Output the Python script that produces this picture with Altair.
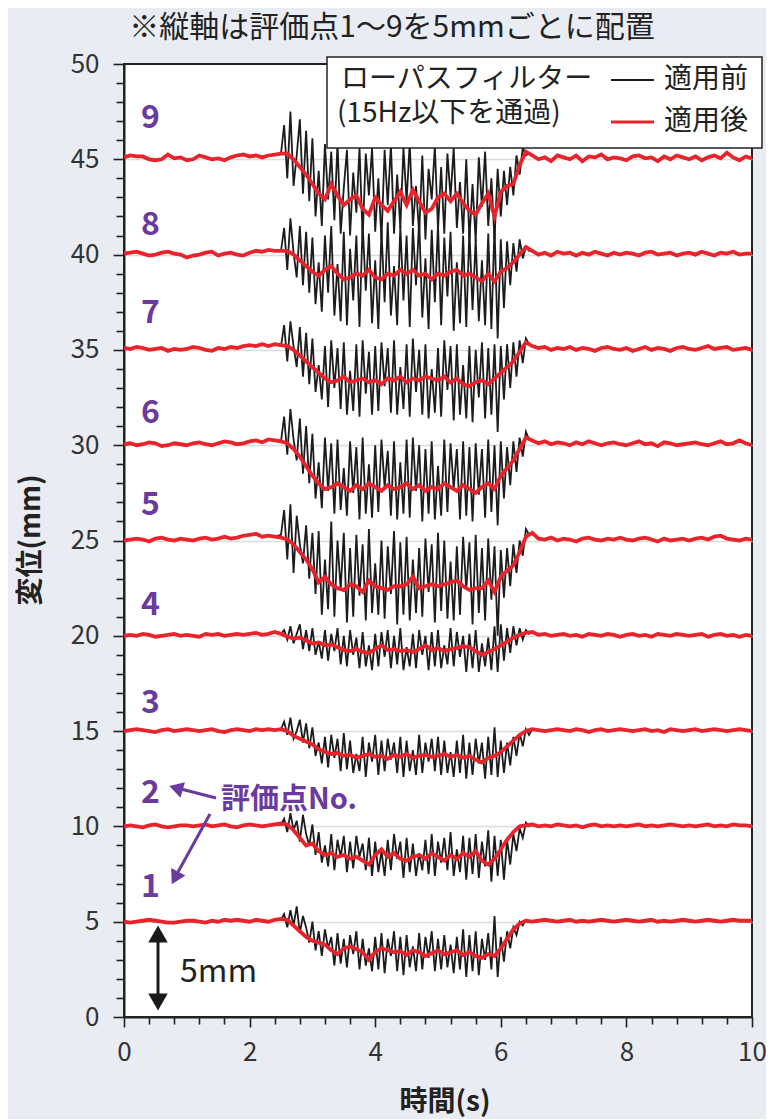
import altair as alt
import pandas as pd

FONT = "Noto Sans CJK JP"
PURPLE = "#6b3a9e"
RED = "#e8232b"
BLACK = "#1c1c1c"
BG = "#e9edf3"

# evaluation points and their vertical placement (5 mm apart)
points = [1, 2, 3, 4, 5, 6, 7, 8, 9]
baselines = [5, 10, 15, 20, 25, 30, 35, 40, 45]

# time grids (s)
red_t = [round(0.1 * i, 1) for i in range(101)]          # 0.0 .. 10.0
black_t = [round(2.5 + 0.05 * i, 2) for i in range(80)]  # 2.50 .. 6.45

# filtered (red) displacement, offset from each baseline (mm), every 0.1 s
red_off = {
    9: [0.10, 0.20, 0.15, 0.15, 0.00, -0.05, 0.00, 0.25, 0.05, 0.10,
        -0.05, 0.00, 0.20, 0.10, 0.00, 0.05, -0.05, 0.10, 0.20, 0.25,
        0.15, 0.20, 0.10, 0.20, 0.25, 0.30, 0.30, 0.00, -0.40, -0.80,
        -1.30, -1.80, -2.10, -1.30, -1.90, -2.40, -2.10, -1.90, -2.60, -2.90,
        -2.00, -2.40, -2.70, -2.20, -1.70, -2.40, -1.60, -2.20, -2.80, -2.60,
        -2.00, -1.80, -2.20, -1.80, -2.30, -2.70, -2.90, -2.30, -1.80, -3.00,
        -1.70, -1.40, -1.30, -0.30, 0.40, 0.20, 0.00, 0.10, -0.10, 0.20,
        0.10, 0.00, 0.20, -0.10, 0.15, 0.10, 0.25, 0.00, 0.10, 0.05,
        -0.05, 0.15, 0.20, 0.05, 0.10, -0.10, 0.15, 0.00, 0.20, 0.10,
        0.00, 0.15, -0.05, 0.10, 0.20, 0.05, 0.35, 0.10, -0.05, 0.15,
        0.05],
    8: [0.05, 0.10, 0.15, 0.05, -0.05, 0.00, 0.10, 0.15, 0.05, 0.00,
        -0.15, -0.05, 0.00, 0.10, 0.15, -0.05, 0.05, 0.10, 0.00, -0.05,
        0.10, 0.20, 0.15, 0.25, 0.20, 0.20, 0.20, 0.00, -0.30, -0.60,
        -0.90, -1.10, -0.80, -0.60, -1.00, -1.30, -1.20, -1.00, -1.10, -0.80,
        -1.20, -1.30, -1.00, -1.10, -0.80, -1.00, -0.80, -1.10, -1.00, -1.30,
        -1.00, -1.10, -0.90, -0.80, -1.10, -1.00, -1.20, -1.40, -1.00, -1.40,
        -0.90, -0.70, -0.40, 0.00, 0.40, 0.20, 0.00, 0.10, -0.05, 0.15,
        0.05, 0.10, -0.05, 0.10, 0.00, 0.15, 0.05, -0.05, 0.10, 0.00,
        0.10, 0.05, -0.05, 0.10, 0.15, 0.00, 0.05, 0.10, -0.05, 0.05,
        0.10, 0.00, 0.15, 0.05, -0.05, 0.10, 0.05, 0.15, 0.00, 0.05,
        0.05],
    7: [0.10, 0.05, 0.15, 0.10, 0.00, 0.05, 0.10, -0.05, 0.05, 0.00,
        0.05, 0.15, 0.10, 0.00, -0.05, 0.10, 0.05, 0.15, 0.10, 0.20,
        0.25, 0.20, 0.30, 0.20, 0.30, 0.25, 0.20, 0.00, -0.30, -0.60,
        -0.90, -1.20, -1.50, -1.70, -1.60, -1.40, -1.70, -1.60, -1.50, -1.70,
        -1.60, -1.80, -1.50, -1.60, -1.40, -1.70, -1.50, -1.60, -1.40, -1.50,
        -1.60, -1.40, -1.70, -1.50, -1.80, -1.90, -1.70, -1.60, -1.80, -1.50,
        -1.20, -0.90, -0.60, -0.10, 0.40, 0.20, 0.10, 0.15, 0.00, 0.10,
        0.05, 0.15, 0.00, 0.10, 0.05, -0.05, 0.10, 0.15, 0.05, 0.00,
        0.10, -0.05, 0.05, 0.15, 0.00, 0.10, 0.05, -0.05, 0.10, 0.15,
        0.05, 0.00, 0.10, 0.20, 0.05, 0.10, 0.15, 0.00, 0.05, 0.10,
        0.00],
    6: [0.05, 0.10, 0.00, 0.05, 0.15, 0.10, -0.05, 0.00, 0.10, 0.05,
        0.00, 0.10, 0.15, 0.05, 0.00, 0.10, 0.20, 0.15, 0.05, 0.10,
        0.20, 0.25, 0.15, 0.30, 0.25, 0.20, 0.10, -0.20, -0.60, -1.10,
        -1.60, -2.00, -2.30, -2.20, -2.00, -2.20, -2.40, -2.10, -2.30, -2.00,
        -2.20, -2.40, -2.10, -2.30, -2.20, -2.00, -2.30, -2.10, -2.40, -2.20,
        -2.30, -2.00, -2.20, -2.40, -2.10, -2.30, -2.50, -2.20, -2.00, -2.30,
        -1.60, -1.20, -0.80, -0.20, 0.40, 0.25, 0.10, 0.20, 0.05, 0.15,
        0.10, 0.00, 0.15, 0.05, 0.20, 0.10, 0.00, 0.10, 0.15, 0.05,
        0.00, 0.10, 0.20, 0.05, 0.10, -0.05, 0.15, 0.10, 0.00, 0.05,
        0.10, 0.15, 0.05, 0.00, 0.10, 0.20, 0.05, 0.10, 0.25, 0.10,
        0.00],
    5: [0.00, 0.05, 0.10, 0.05, -0.05, 0.10, 0.15, 0.05, 0.00, 0.10,
        0.05, 0.00, 0.10, 0.15, 0.05, 0.10, 0.20, 0.10, 0.15, 0.25,
        0.30, 0.35, 0.20, 0.25, 0.20, 0.15, 0.05, -0.20, -0.60, -1.00,
        -1.50, -2.20, -1.90, -2.30, -2.50, -2.60, -2.30, -2.40, -2.70, -2.10,
        -2.40, -2.50, -2.60, -2.40, -2.40, -2.30, -1.90, -2.50, -2.40, -2.30,
        -2.40, -2.30, -2.20, -2.10, -2.40, -2.60, -2.50, -2.50, -2.10, -2.70,
        -1.90, -1.60, -1.30, -0.60, 0.20, 0.40, 0.10, 0.05, 0.15, 0.00,
        0.10, 0.05, -0.05, 0.10, 0.15, 0.05, 0.00, 0.10, 0.05, 0.15,
        0.05, 0.00, 0.10, 0.15, 0.05, -0.05, 0.10, 0.00, 0.05, 0.10,
        0.00, 0.10, 0.15, 0.05, 0.20, 0.25, 0.10, 0.05, 0.00, 0.10,
        0.05],
    4: [0.00, 0.05, 0.00, 0.10, 0.05, -0.05, 0.00, 0.05, 0.10, 0.00,
        0.05, 0.00, -0.05, 0.10, 0.05, 0.10, 0.00, 0.05, 0.10, 0.05,
        0.10, 0.15, 0.05, 0.10, 0.20, 0.10, -0.05, -0.15, -0.10, -0.25,
        -0.40, -0.35, -0.50, -0.45, -0.60, -0.75, -0.80, -0.70, -0.85, -0.90,
        -0.70, -0.50, -0.75, -0.70, -0.80, -0.75, -0.85, -0.70, -0.50, -0.75,
        -0.65, -0.80, -0.70, -0.65, -0.55, -0.60, -0.80, -1.00, -0.85, -0.70,
        -0.50, -0.30, -0.10, 0.05, 0.15, 0.20, 0.05, 0.10, 0.00, 0.05,
        0.10, 0.00, 0.05, -0.05, 0.10, 0.05, 0.00, 0.10, 0.05, -0.05,
        0.05, 0.10, 0.00, 0.05, -0.05, 0.10, 0.05, 0.00, 0.10, 0.05,
        0.00, 0.05, 0.10, -0.05, 0.05, 0.10, 0.00, 0.05, -0.05, 0.05,
        0.00],
    3: [0.00, 0.05, 0.10, 0.05, 0.00, -0.05, 0.05, 0.10, 0.00, 0.05,
        0.10, 0.05, 0.00, 0.05, 0.10, 0.00, -0.05, 0.05, 0.10, 0.05,
        0.00, 0.10, 0.05, 0.10, 0.05, 0.10, 0.00, -0.25, -0.40, -0.55,
        -0.70, -0.95, -1.10, -1.20, -1.15, -1.30, -1.25, -1.40, -1.30, -1.20,
        -1.35, -1.30, -1.45, -1.25, -1.35, -1.20, -1.40, -1.30, -1.25, -1.35,
        -1.30, -1.20, -1.35, -1.25, -1.40, -1.30, -1.50, -1.65, -1.40, -1.30,
        -1.10, -0.80, -0.50, -0.20, 0.00, 0.10, 0.05, 0.00, 0.05, 0.10,
        0.05, 0.00, 0.10, 0.05, -0.05, 0.05, 0.10, 0.00, 0.05, 0.10,
        0.05, 0.00, 0.05, 0.10, 0.00, 0.05, -0.05, 0.10, 0.05, 0.00,
        0.05, 0.10, 0.00, 0.05, 0.10, 0.05, 0.00, 0.05, 0.10, 0.05,
        0.00],
    2: [0.00, 0.05, 0.00, -0.05, 0.05, 0.10, 0.00, -0.05, 0.00, 0.05,
        0.05, 0.00, 0.05, 0.10, 0.00, 0.05, 0.10, 0.00, -0.05, 0.05,
        0.10, 0.05, 0.00, 0.05, 0.10, 0.15, 0.10, -0.20, -0.60, -1.00,
        -0.90, -1.30, -1.50, -1.40, -1.60, -1.50, -1.70, -1.60, -1.80, -2.00,
        -1.50, -1.20, -1.60, -1.40, -1.70, -1.80, -1.60, -1.50, -1.70, -1.40,
        -1.60, -1.80, -1.50, -1.70, -1.40, -1.60, -1.30, -1.80, -2.00, -1.70,
        -1.20, -0.70, -0.30, 0.00, 0.05, 0.10, 0.00, 0.05, 0.00, 0.10,
        0.05, 0.00, 0.05, -0.05, 0.05, 0.10, 0.00, 0.05, 0.00, 0.05,
        0.00, 0.05, 0.10, 0.00, 0.05, 0.00, 0.05, 0.10, 0.05, 0.00,
        0.05, 0.00, 0.05, 0.10, 0.00, 0.05, 0.00, 0.10, 0.05, 0.05,
        0.00],
    1: [0.00, -0.05, 0.00, 0.05, 0.10, 0.05, 0.00, -0.05, -0.05, 0.00,
        0.05, 0.05, 0.00, -0.05, 0.05, 0.00, 0.10, 0.05, 0.10, 0.05,
        0.00, 0.10, 0.05, 0.00, 0.10, 0.15, 0.10, -0.20, -0.50, -0.80,
        -1.00, -1.10, -1.20, -1.50, -1.70, -1.40, -1.30, -1.45, -1.60, -2.00,
        -1.60, -1.40, -1.50, -1.60, -1.55, -1.75, -1.50, -1.60, -1.80, -1.65,
        -1.50, -1.70, -1.60, -1.50, -1.75, -1.60, -1.80, -1.90, -1.70, -1.80,
        -1.40, -0.90, -0.40, -0.10, 0.05, 0.00, 0.05, 0.10, 0.05, 0.00,
        0.05, 0.10, 0.00, 0.05, 0.00, 0.05, 0.10, 0.05, 0.00, 0.05,
        0.10, 0.05, 0.00, 0.05, 0.10, 0.00, 0.05, 0.00, 0.05, 0.10,
        0.05, 0.00, 0.05, 0.10, 0.05, 0.00, 0.05, 0.10, 0.05, 0.05,
        0.05],
}

# unfiltered (black) displacement during shaking, offset from baseline (mm), every 0.05 s from 2.50 s
black_off = {
    9: [0.3, 1.8, -1.0, 2.5, -1.4, 0.2, 2.1, -1.8, 1.5, -2.2,
        1.1, -3.0, -0.6, -3.5, 0.8, -2.1, 0.4, -3.2, 0.9, -3.9,
        -1.5, 0.5, -4.0, -0.7, -2.8, 0.6, -4.1, 0.3, -1.9, 0.6,
        -3.8, -1.0, -4.2, 0.5, -2.4, 0.8, -3.9, -0.8, -3.6, 0.6,
        -2.2, 0.9, -3.5, -1.4, -3.9, 0.2, -4.2, -0.5, -2.1, 0.7,
        -3.7, -0.4, -3.9, 0.3, -2.0, 0.6, -3.6, -1.2, -3.9, 0.0,
        -4.2, -1.3, -4.3, 0.1, -2.5, 0.4, -3.5, -1.0, -4.2, -0.5,
        -3.0, -0.6, -2.4, -0.4, -1.9, 0.2, -0.8, 0.6, 0.2, 0.3],
    8: [0.2, 1.4, -0.8, 1.9, 0.1, -1.2, 1.5, -1.6, 1.2, -2.0,
        0.9, -2.6, -0.4, -3.0, 1.0, -2.0, 1.5, -3.2, -0.5, -3.5,
        1.2, -3.7, 0.3, -2.4, 1.0, -3.8, 1.6, -1.9, 1.1, -3.6,
        -0.3, -3.9, 1.3, -2.5, 1.7, -3.2, -0.6, -3.7, 1.5, -2.4,
        1.0, -3.8, 1.4, -1.6, 1.8, -3.3, -0.2, -3.9, 1.3, -2.5,
        1.6, -3.7, 0.9, -2.2, 1.2, -4.0, -0.4, -3.6, 1.0, -3.8,
        1.3, -2.9, 0.8, -3.5, -0.3, -3.7, 1.1, -3.9, 1.5, -4.4,
        0.8, -2.8, 0.7, -1.6, 0.6, -0.9, 0.8, -0.2, 0.4, 0.2],
    7: [0.2, 1.3, -0.6, 1.5, 0.2, -0.9, 1.2, -1.4, 0.9, -1.8,
        0.6, -2.2, -0.8, -2.6, 0.2, -3.0, 0.5, -2.0, 0.1, -3.1,
        0.4, -3.4, -1.1, -3.2, 0.3, -3.5, 0.5, -2.3, -0.1, -3.4,
        0.2, -3.2, 0.4, -1.9, 0.1, -3.3, 0.5, -3.4, -0.9, -3.1,
        0.3, -3.5, 0.6, -2.2, 0.0, -3.4, 0.3, -3.6, -1.0, -3.3,
        0.1, -3.5, 0.5, -2.1, 0.2, -3.7, 0.3, -3.4, -0.8, -3.6,
        0.2, -3.8, 0.0, -2.5, 0.4, -3.6, 0.1, -3.4, 0.3, -4.3,
        0.2, -2.6, 0.3, -2.0, 0.4, -1.4, 0.5, -0.7, 0.6, 0.3],
    6: [0.2, 1.5, -0.5, 1.9, 0.3, -0.8, 1.4, -1.5, 1.0, -2.0,
        0.6, -2.8, -0.9, -3.3, 0.4, -2.4, 0.1, -3.6, 0.3, -3.4,
        -1.2, -3.7, 0.2, -2.5, -0.1, -3.9, 0.4, -3.6, -1.0, -3.8,
        0.0, -3.5, 0.3, -2.2, -0.3, -3.7, 0.2, -3.9, -0.9, -3.6,
        0.3, -3.8, 0.4, -2.4, 0.0, -4.0, -0.2, -3.6, 0.2, -3.9,
        -1.1, -3.7, 0.3, -3.5, 0.1, -2.3, -0.2, -3.9, 0.2, -3.7,
        -0.1, -4.0, 0.1, -2.6, -0.2, -3.8, 0.3, -3.5, 0.0, -4.2,
        0.2, -2.8, -0.1, -2.1, 0.2, -1.4, 0.4, -0.6, 0.7, 0.3],
    5: [0.3, 1.6, -1.0, 1.9, -1.7, 1.3, -0.2, -1.2, 0.8, -2.0,
        0.4, -2.8, 0.5, -3.9, -1.0, -3.6, 1.0, -4.0, 0.0, -2.6,
        0.4, -4.3, -0.4, -4.0, 0.3, -2.9, -0.2, -4.2, 0.6, -3.8,
        -1.2, -3.9, 0.0, -4.1, -0.3, -2.8, 0.5, -4.4, -0.1, -3.9,
        0.2, -4.2, -1.0, -3.8, -0.4, -4.0, 0.1, -2.7, -0.2, -4.3,
        0.4, -3.7, 0.0, -4.1, -1.1, -4.2, -0.3, -3.9, 0.2, -2.6,
        -0.1, -4.4, 0.3, -3.8, -0.4, -4.2, 0.1, -3.1, -0.3, -5.0,
        -0.5, -3.0, -0.4, -2.4, -0.2, -1.7, 0.0, -0.8, 0.6, 0.3],
    4: [0.1, 0.3, -0.2, 0.5, -0.4, 0.1, 0.6, -0.7, 0.3, -0.8,
        0.4, -1.0, -0.3, -1.2, 0.3, -1.3, 0.1, -0.8, 0.4, -1.5,
        0.0, -1.6, 0.3, -1.0, -0.1, -1.7, 0.2, -1.6, -0.5, -1.8,
        0.1, -1.6, 0.2, -1.1, 0.3, -1.7, 0.0, -1.5, 0.4, -1.8,
        -0.6, -1.6, 0.1, -1.7, 0.3, -1.0, 0.0, -1.8, 0.2, -1.6,
        0.3, -1.7, -0.5, -1.5, 0.4, -1.6, 0.2, -1.1, 0.0, -1.9,
        0.1, -1.7, 0.3, -1.9, -0.4, -1.6, -0.1, -1.8, 0.5, -1.9,
        0.6, -1.3, 0.4, -0.9, 0.5, -0.5, 0.4, -0.2, 0.3, 0.1],
    3: [0.1, 0.5, -0.2, 0.7, -0.4, 0.0, 0.6, -0.6, 0.4, -0.9,
        0.2, -1.3, -0.6, -1.7, -0.3, -1.9, -0.2, -1.4, -0.4, -2.1,
        -0.1, -2.0, -0.5, -2.2, -1.2, -2.1, -0.3, -2.4, -0.6, -1.6,
        -0.2, -2.3, -0.5, -2.1, -0.4, -1.5, -0.6, -2.2, -0.3, -2.4,
        -0.5, -2.1, -1.0, -2.3, -0.2, -2.2, -0.6, -1.6, -0.4, -2.1,
        -0.3, -2.3, -0.5, -2.2, -1.1, -2.4, -0.5, -2.2, -0.2, -2.5,
        -0.6, -2.3, -0.4, -1.7, -0.6, -2.5, -0.3, -2.3, 0.2, -2.4,
        -0.5, -2.2, -0.6, -1.8, -0.3, -1.3, -0.1, -0.8, 0.1, -0.2],
    2: [0.1, 0.4, -0.3, 0.7, -0.2, 0.3, -0.8, 0.6, -0.4, -1.0,
        0.1, -1.5, -0.3, -1.9, -1.0, -2.1, -0.4, -2.3, -0.7, -1.6,
        -0.5, -2.4, -0.8, -2.2, -0.5, -1.6, -0.9, -2.3, -0.6, -2.6,
        -0.8, -2.4, -1.3, -2.6, -0.7, -2.3, -0.4, -1.7, -0.8, -2.7,
        -0.6, -2.4, -0.9, -2.6, -1.4, -2.3, -0.7, -2.5, -0.4, -2.6,
        -0.8, -1.9, -0.6, -2.3, -0.3, -2.6, -1.2, -2.4, -0.5, -2.8,
        -0.6, -2.5, -0.4, -2.7, -0.8, -2.1, -0.2, -2.9, -0.5, -2.6,
        -0.7, -2.8, -0.7, -2.0, -0.4, -1.3, -0.1, -0.6, 0.2, 0.0],
    1: [0.1, 0.4, -0.3, 0.6, -0.2, 0.8, -0.6, 0.3, -0.3, -1.1,
        0.0, -1.5, -0.5, -1.8, -0.4, -1.4, -0.8, -2.3, -0.6, -2.2,
        -0.9, -2.4, -0.7, -1.7, -0.5, -2.5, -0.9, -2.3, -1.4, -2.6,
        -0.8, -2.5, -0.6, -2.7, -0.9, -1.8, -0.5, -2.6, -0.8, -2.8,
        -0.7, -2.4, -1.3, -2.6, -0.6, -2.5, -0.8, -1.9, -0.5, -2.6,
        -0.9, -2.5, -0.7, -2.4, -1.2, -2.7, -0.8, -2.5, -0.4, -2.9,
        -0.7, -2.6, -0.5, -2.8, -0.9, -2.0, -0.6, -2.5, 0.3, -2.9,
        -0.8, -2.1, -0.5, -1.4, -0.3, -0.7, 0.0, -0.2, 0.1, 0.05],
}

# point-number labels (placement)
label_t = [0.42] * 9
label_y = [6.8, 11.75, 16.5, 21.6, 26.85, 31.7, 36.95, 41.55, 47.15]

y_ticks = list(range(0, 51))
x_ticks = [0, 0.4, 0.8, 1.2, 1.6, 2, 2.4, 2.8, 3.2, 3.6, 4, 4.4, 4.8, 5.2, 5.6,
           6, 6.4, 6.8, 7.2, 7.6, 8, 8.4, 8.8, 9.2, 9.6, 10]

# ---- build tables
red_rows, black_rows = [], []
for p, base in zip(points, baselines):
    ro = red_off[p]
    bo = black_off[p]
    for t, o in zip(red_t, ro):
        red_rows.append({"t": t, "v": base + o, "pt": p})
        if t < 2.5 or t > 6.45:
            black_rows.append({"t": t, "v": base + o, "pt": p})
    for t, o in zip(black_t, bo):
        black_rows.append({"t": t, "v": base + o, "pt": p})
red_df = pd.DataFrame(red_rows)
black_df = pd.DataFrame(black_rows).sort_values(["pt", "t"])
lab_df = pd.DataFrame({"t": label_t, "v": label_y, "txt": [str(p) for p in points]})

W, H = 628, 953

xscale = alt.Scale(domain=[0, 10], nice=False, zero=False)
yscale = alt.Scale(domain=[0, 50], nice=False, zero=False)

xaxis = alt.Axis(
    values=x_ticks, tickCount=500, title=None, grid=False,
    labelExpr="abs(datum.value % 2) < 1e-9 ? format(datum.value, 'd') : ''",
    labelFont=FONT, labelFontSize=26, labelColor="#333333", labelPadding=12,
    tickSize={"condition": {"test": "abs(datum.value % 2) < 1e-9", "value": 10}, "value": 7},
    tickColor="#222222", tickWidth=1.6, domainColor="#222222", domainWidth=2,
    labelOverlap=False, labelFlush=False,
)
yaxis = alt.Axis(
    values=y_ticks, tickCount=500, title=None,
    labelExpr="datum.value % 5 === 0 ? format(datum.value, 'd') : ''",
    labelFont=FONT, labelFontSize=26, labelColor="#333333", labelPadding=14,
    tickSize={"condition": {"test": "datum.value % 5 === 0", "value": 11}, "value": 8},
    tickColor="#222222", tickWidth=1.6, domainColor="#222222", domainWidth=2,
    grid=True, gridColor="#dcdcdc", gridWidth=1.5,
    gridOpacity={"condition": {"test": "datum.value % 5 === 0 && datum.value > 0 && datum.value < 50", "value": 1}, "value": 0},
    labelOverlap=False, labelFlush=False,
)

X = alt.X("t:Q", scale=xscale, axis=xaxis)
Y = alt.Y("v:Q", scale=yscale, axis=yaxis)

black = alt.Chart(black_df).mark_line(color=BLACK, strokeWidth=1.8).encode(
    x=X, y=Y, detail="pt:N", order="t:Q")
red = alt.Chart(red_df).mark_line(color=RED, strokeWidth=3.8).encode(
    x=X, y=Y, detail="pt:N", order="t:Q")
labels = alt.Chart(lab_df).mark_text(
    font=FONT, fontSize=32, fontWeight="bold", color=PURPLE, align="center", baseline="middle"
).encode(x=X, y=Y, text="txt:N")

one = alt.Data(values=[{"a": 1}])


def txt(s, x, y, size, color="#222222", weight="normal", align="left", angle=0):
    kw = dict(font=FONT, fontSize=size, fontWeight=weight, color=color,
              align=align, baseline="middle")
    if angle:
        kw["angle"] = angle
    return alt.Chart(one).mark_text(**kw).encode(
        x=alt.value(x), y=alt.value(y), text=alt.value(s))


def seg(x1, y1, x2, y2, color, width):
    return alt.Chart(one).mark_rule(color=color, strokeWidth=width).encode(
        x=alt.value(x1), y=alt.value(y1), x2=alt.value(x2), y2=alt.value(y2))


def head(x, y, angle, color, size):
    return alt.Chart(one).mark_point(shape="triangle-up", filled=True, color=color,
                                     size=size, opacity=1, angle=angle).encode(
        x=alt.value(x), y=alt.value(y))


# legend box
legend_box = alt.Chart(one).mark_rect(fill="white", stroke="#222222", strokeWidth=1.5).encode(
    x=alt.value(203), x2=alt.value(638), y=alt.value(-7), y2=alt.value(84))

layers = [
    black, red, labels,
    legend_box,
    txt("ローパスフィルター", 217, 16, 28),
    txt("(15Hz以下を通過)", 213, 50, 28),
    seg(487, 16, 530, 16, BLACK, 2),
    txt("適用前", 540, 16, 28),
    seg(487, 58, 530, 58, RED, 3),
    txt("適用後", 540, 58, 28),
    # title and axis titles
    txt("※縦軸は評価点1〜9を5mmごとに配置", 268, -36, 30, align="center"),
    txt("時間(s)", 321, 1039, 28, weight="bold", align="center"),
    txt("変位(mm)", -92, 476, 28, weight="bold", align="center", angle=270),
    # 5 mm scale arrow
    seg(34, 866, 34, 942, "#1a1a1a", 3),
    head(34, 870, 0, "#1a1a1a", 380),
    head(34, 938, 180, "#1a1a1a", 380),
    txt("5mm", 56, 908, 32),
    # point-number annotation
    txt("評価点No.", 97, 736, 29, color=PURPLE, weight="bold"),
    seg(92, 734, 57, 725, PURPLE, 3),
    head(52, 724, 286, PURPLE, 260),
    seg(86, 750, 54, 808, PURPLE, 3),
    head(51, 814, 208, PURPLE, 260),
]

chart = alt.layer(*layers).properties(
    width=W, height=H, background=BG,
    padding={"left": 116, "top": 56, "right": 14, "bottom": 102},
    autosize=alt.AutoSizeParams(type="none"),
).configure_view(fill="white", stroke="#222222", strokeWidth=2)

chart.save("out.html", embed_options={"renderer": "svg", "actions": False})
